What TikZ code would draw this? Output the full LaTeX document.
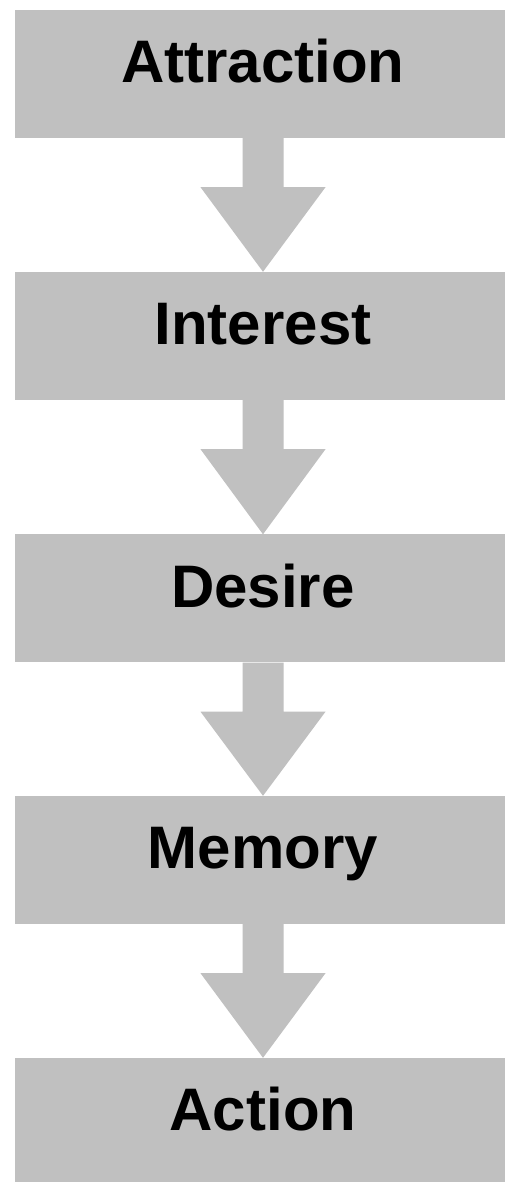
\documentclass[tikz,border=0pt]{standalone}
\usepackage{fontspec}
\setmainfont{Liberation Sans}
\usetikzlibrary{calc}
\definecolor{stagegray}{HTML}{C0C0C0}
\tikzset{
  stagebox/.style={fill=stagegray, draw=none, minimum width=496pt, minimum height=128pt,
    inner sep=0pt, text height=50pt, text depth=32pt,
    font=\fontsize{60}{72}\selectfont\bfseries},
  flowarrow/.style={fill=stagegray, draw=none}
}
% down arrow from the bottom of one box to the top of the next
\newcommand{\flowdown}[2]{%
  \fill[flowarrow] ($(#1.south)+(-20.5pt,0)$) -- ($(#1.south)+(20.5pt,0)$)
    -- ($(#1.south)+(20.5pt,-49pt)$) -- ($(#1.south)+(62.5pt,-49pt)$)
    -- (#2.north) -- ($(#1.south)+(-62.5pt,-49pt)$)
    -- ($(#1.south)+(-20.5pt,-49pt)$) -- cycle;}
\begin{document}
\begin{tikzpicture}[x=1pt,y=1pt]
  \useasboundingbox (0,0) rectangle (505,1182);
  \clip (0,0) rectangle (505,1182);
  \fill[white] (0,0) rectangle (505,1182);
  \node[stagebox] (attr) at (263,1108) {Attraction};
  \node[stagebox] (inte) at (263,846) {Interest};
  \node[stagebox] (desi) at (263,583.5) {Desire};
  \node[stagebox] (memo) at (263,322) {Memory};
  \node[stagebox] (acti) at (263,60) {Action};
  \flowdown{attr}{inte}
  \flowdown{inte}{desi}
  \flowdown{desi}{memo}
  \flowdown{memo}{acti}
\end{tikzpicture}
\end{document}
